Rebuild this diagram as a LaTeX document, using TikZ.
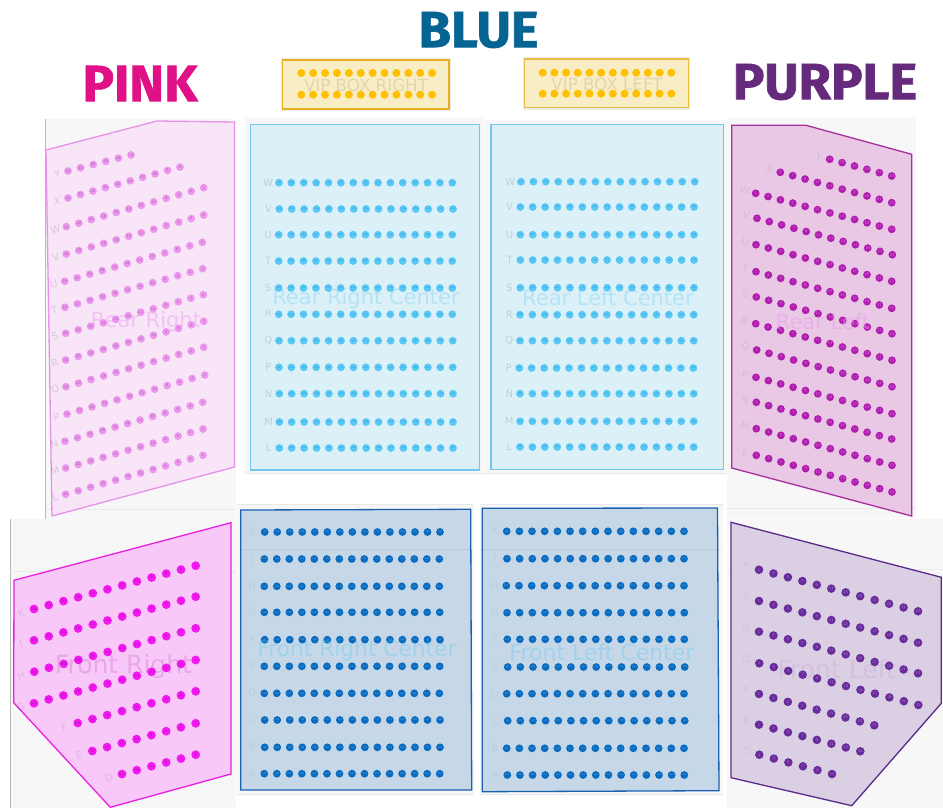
\documentclass[tikz,border=0pt]{standalone}
\usepackage{fontspec}
\setmainfont{DejaVu Sans}
\newfontfamily\titlefont[BoldFeatures={FakeBold=1.3,FakeStretch=1.03}]{Fira Sans}
\definecolor{TitlePink}{RGB}{224,17,134}
\definecolor{TitleBlue}{RGB}{6,100,146}
\definecolor{TitlePurple}{RGB}{102,42,124}
\definecolor{PanelGrey}{RGB}{247,247,247}
\definecolor{PanelLine}{RGB}{232,232,232}
\definecolor{RearRightFill}{RGB}{248,230,248}
\definecolor{RearRightLine}{RGB}{232,144,234}
\definecolor{RearRightSeat}{RGB}{236,150,238}
\definecolor{RearCenterFill}{RGB}{220,240,248}
\definecolor{RearCenterLine}{RGB}{112,200,236}
\definecolor{RearCenterSeat}{RGB}{90,200,245}
\definecolor{RearLeftFill}{RGB}{232,200,228}
\definecolor{RearLeftLine}{RGB}{168,47,160}
\definecolor{RearLeftSeat}{RGB}{176,30,176}
\definecolor{FrontRightFill}{RGB}{248,200,248}
\definecolor{FrontRightLine}{RGB}{232,32,224}
\definecolor{FrontRightSeat}{RGB}{242,24,240}
\definecolor{FrontCenterFill}{RGB}{198,216,232}
\definecolor{FrontCenterLine}{RGB}{26,96,176}
\definecolor{FrontCenterSeat}{RGB}{10,108,192}
\definecolor{FrontLeftFill}{RGB}{219,207,228}
\definecolor{FrontLeftLine}{RGB}{90,42,140}
\definecolor{FrontLeftSeat}{RGB}{106,44,156}
\definecolor{VipFill}{RGB}{248,237,197}
\definecolor{VipLine}{RGB}{232,176,32}
\definecolor{VipSeat}{RGB}{255,192,0}
\newcommand{\seatrow}[9]{%
    \foreach \i in {1,...,#7} {
        \pgfmathsetmacro\seatx{#3+(#5-#3)*(\i-1)/(#7-1)}
        \pgfmathsetmacro\seaty{#4+(#6-#4)*(\i-1)/(#7-1)}
        \pgfmathtruncatemacro\seatnum{#8+(\i-1)*#9}
        \node (#1-#2-\i) [seat] at (\seatx,\seaty) {\seatnum};
    }
    \node (#1-#2-label) [rowlabel] at (#1-#2-1) {#2};
}
\begin{document}
\begin{tikzpicture}[
            x=1pt, y=-1pt,
            outline/.style={line width=1.3pt},
            seatbase/.style={circle, inner sep=0pt, minimum size=7.8pt, font=\fontsize{3.6}{4}\selectfont},
            seatsmall/.style={seatbase, font=\fontsize{2.3}{3}\selectfont},
            rowbase/.style={inner sep=0pt, text=black, text opacity=0.13, font=\fontsize{10}{11}\selectfont},
            section/.style={inner sep=0pt, font=\fontsize{21}{24}\selectfont},
            bigsection/.style={inner sep=0pt, font=\fontsize{25}{28}\selectfont},
            vipname/.style={inner sep=0pt, font=\fontsize{16.7}{18}\selectfont, text=black!60!VipLine, text opacity=0.14},
            vipseat/.style={circle, inner sep=0pt, minimum size=8pt, fill=VipSeat},
            title/.style={inner sep=0pt, font=\titlefont\bfseries\fontsize{51}{54}\selectfont}
        ]
            \useasboundingbox (0,0) rectangle (943,808);
            \fill[white] (0,0) rectangle (943,808);

            % grey panels behind the sections
            \fill[PanelGrey] (45.7,119) rectangle (236,519);
            \fill[PanelGrey] (10.3,519) rectangle (236,808);
            \fill[PanelGrey] (245,118) rectangle (484,473);
            \fill[PanelGrey] (485,120) rectangle (727,473);
            \fill[PanelGrey] (727,118) rectangle (915.7,518);
            \fill[PanelGrey] (727,519) rectangle (943,808);
            \fill[PanelGrey] (236.7,504.3) rectangle (474,794);
            \fill[PanelGrey] (480,504) rectangle (722.7,794);
            \draw[black!28, thick] (45.7,119) -- (45.7,519);
            \draw[black!28, thick] (10.3,519) -- (10.3,808);
            \draw[PanelLine] (45.7,509.3) -- (236,509.3);
            \draw[PanelLine] (727,508) -- (915.7,508);
            \draw[PanelLine] (10.3,571.3) -- (236,571.3);
            \draw[PanelLine] (727,568.7) -- (943,568.7);
            \draw[PanelLine, thick] (245,473) -- (484,473);
            \draw[PanelLine, thick] (485,473) -- (727,473);
            \draw[PanelLine, thick] (236.7,504.3) -- (474,504.3);
            \draw[PanelLine, thick] (480,504) -- (722.7,504);
            \draw[PanelLine, thick] (236.7,794) -- (474,794);
            \draw[PanelLine, thick] (480,794) -- (722.7,794);

            % section outlines
            \draw[outline, RearRightLine, fill=RearRightFill] (46,150) -- (157,121) -- (234.5,122) -- (234.5,467) -- (52,516) -- cycle;
            \draw[outline, RearCenterLine, fill=RearCenterFill] (250.7,124.3) rectangle (479.8,470);
            \draw[outline, RearCenterLine, fill=RearCenterFill] (491,124.3) rectangle (723.5,469.5);
            \draw[outline, RearLeftLine, fill=RearLeftFill] (731.7,125.3) -- (806,125.3) -- (911.7,154.3) -- (911.7,516) -- (731.7,468) -- cycle;
            \draw[outline, FrontRightLine, fill=FrontRightFill] (14,580.3) -- (231,522.7) -- (231,774) -- (110.3,807.3) -- (13.7,702.7) -- cycle;
            \draw[outline, FrontCenterLine, fill=FrontCenterFill] (240.7,510) -- (470.7,509.3) -- (471.7,790) -- (240.7,790) -- cycle;
            \draw[outline, FrontCenterLine, fill=FrontCenterFill] (482.3,508.3) -- (717.5,508) -- (719,790.7) -- (482.3,791.7) -- cycle;
            \draw[outline, FrontLeftLine, fill=FrontLeftFill] (731,522.3) -- (941.3,577.3) -- (941.3,703.3) -- (851.7,805.7) -- (731,777.7) -- cycle;
            \draw[black!8, fill=black!8] (281,58.3) rectangle (450.3,110.3);
            \draw[black!8, fill=black!8] (522.7,57.3) rectangle (689.3,109.3);
            \draw[outline, VipLine, fill=VipFill] (282.7,60) rectangle (449,109);
            \draw[outline, VipLine!85!white, fill=VipFill] (524.3,59) rectangle (688.3,107.7);
            \draw[black, opacity=0.05] (236.7,549.3) -- (474,549.3);
            \draw[black, opacity=0.05] (480,548.7) -- (722.7,548.7);

            % rear right
            \begin{scope}[seat/.style={seatbase, fill=RearRightSeat, text=RearRightLine!70!black},
                          rowlabel/.style={rowbase, shift={(-10.7,3)}, rotate=15.8}]
                \foreach \row/\xa/\ya/\xb/\yb/\n in {Y/68/171/131/155/6, X/68/198/180/167/10, W/66.3/226.7/203.7/187.7/12,
                        V/66.3/254/203.7/215/12, U/64.7/281.3/202.3/242.3/12, T/65/307.3/202.7/268.7/12,
                        S/65.7/333.3/203.3/294.7/12, R/65.7/360/203.7/321.3/12, Q/66/386.7/203.7/347.3/12,
                        P/67/414/204.7/375/12, N/65/441.3/202.7/402.3/12, M/65.7/468/203/429/12, L/65.7/494.3/203/455.3/12}
                    \seatrow{rr}{\row}{\xa}{\ya}{\xb}{\yb}{\n}{24}{-2};
            \end{scope}

            % rear left
            \begin{scope}[seat/.style={seatbase, fill=RearLeftSeat, text=RearLeftSeat!60!white},
                          rowlabel/.style={rowbase, shift={(-11,-3)}, rotate=-15, text opacity=0.07}]
                \foreach \row/\xa/\ya/\xb/\yb/\n/\first in {Y/829.7/159.3/891.7/176/6/13, X/780.3/172.3/891.7/202.7/10/5, W/755.7/193.3/891.7/229.3/12/1,
                        V/757/218.3/892.3/254.7/12/1, U/756/244.7/891.7/281.3/12/1, T/756/271.7/891.7/308.3/12/1,
                        S/756.3/297/892/333.7/12/1, R/755.7/323.7/892/360.3/12/1, Q/756.7/350/892/386.7/12/1,
                        P/756/377.3/892/413.7/12/1, N/756.3/402.3/891.7/439/12/1, M/756.3/428.7/892/465.3/12/1, L/756.3/455.3/892/492/12/1}
                    \seatrow{rl}{\row}{\xa}{\ya}{\xb}{\yb}{\n}{\first}{2};
            \end{scope}

            % rear centers
            \begin{scope}[seat/.style={seatsmall, fill=RearCenterSeat, text=FrontCenterSeat!60!RearCenterSeat},
                          rowlabel/.style={rowbase, shift={(-10.7,0)}}]
                \foreach \row/\xa/\ya/\xb/\yb in {W/279/182.7/452.3/182.7, V/279.3/209/453/209, U/278.7/234.7/452.3/234.7,
                        T/278.7/261/452.3/261, S/278.7/288/452.3/288, R/278.7/314.3/452.3/314.3, Q/279/340.7/452.7/340.7,
                        P/279/367.3/452.7/367.3, N/279.3/393.7/453/393.7, M/279.3/422/453/422, L/279.3/448/453/448}
                    \seatrow{rrc}{\row}{\xa}{\ya}{\xb}{\yb}{15}{130}{-2};
                \foreach \row/\xa/\ya/\xb/\yb in {W/521/181.7/694.7/181.7, V/520.3/207/694/207, U/520.3/234.7/694/234.7,
                        T/520.3/260/694/260, S/520.3/287.7/694/287.7, R/520/314.7/693.7/314.7, Q/520/340.7/693.7/340.7,
                        P/519.3/368/693.3/368, N/520/393.7/693.7/393.7, M/520/421.3/693.7/421.3, L/520/447/693.7/447}
                    \seatrow{rlc}{\row}{\xa}{\ya}{\xb}{\yb}{15}{101}{2};
            \end{scope}

            % front centers
            \begin{scope}[seat/.style={seatsmall, fill=FrontCenterSeat, text=FrontCenterSeat!60!white},
                          rowlabel/.style={rowbase, shift={(-12,0)}, text opacity=0.05}]
                \foreach \row/\xa/\ya/\xb/\yb in {K/264.7/532/440/532, J/264.3/559/439.3/559, H/264.3/586.3/439.3/586.3,
                        G/264.3/612.3/439.7/612.3, F/264.7/639.7/440/639.7, E/264.3/666.3/439.7/666.3, D/264.3/693.3/439.3/693.3,
                        C/264.7/720/440/720, B/264.7/747.3/440/747.3, A/264.3/773.7/439.7/773.7}
                    \seatrow{frc}{\row}{\xa}{\ya}{\xb}{\yb}{15}{130}{-2};
                \foreach \row/\xa/\ya/\xb/\yb in {K/506.7/531.3/684/531.3, J/507/558.7/684/558.7, H/506.3/585.7/684/585.7,
                        G/507/612.7/684.3/612.7, F/507.3/639.3/684.3/639.3, E/507.7/667/684.7/667, D/506.7/693.7/684/693.7,
                        C/507.7/720.7/684.7/720.7, B/506.7/748.3/684/748.3, A/507.3/775/684.3/775}
                    \seatrow{flc}{\row}{\xa}{\ya}{\xb}{\yb}{15}{101}{2};
            \end{scope}

            % front right
            \begin{scope}[seat/.style={seatbase, minimum size=8.8pt, fill=FrontRightSeat, text=FrontRightLine!70!black},
                          rowlabel/.style={rowbase, shift={(-13,4)}, rotate=15, text opacity=0.09}]
                \foreach \row/\xa/\ya/\xb/\yb/\n/\first in {K/34/609/195.7/565.7/12/24, J/34/640.3/195.7/596.7/12/24, H/34.3/671.7/195.7/628.3/12/24,
                        G/34/703.3/195.7/660/12/24, F/77.7/723/195.7/691.3/9/18, E/92.3/751/195.7/723.3/8/16, D/122/774/195.7/754.7/6/12}
                    \seatrow{fr}{\row}{\xa}{\ya}{\xb}{\yb}{\n}{\first}{-2};
            \end{scope}

            % front left
            \begin{scope}[seat/.style={seatbase, minimum size=8.6pt, fill=FrontLeftSeat, text=FrontLeftSeat!60!white},
                          rowlabel/.style={rowbase, shift={(-13,-4)}, rotate=-15, text opacity=0.05}]
                \foreach \row/\xa/\ya/\xb/\yb/\n in {K/759/569.7/918/611.3/12, J/759/601/918/642.7/12, H/759/631.7/918/673.3/12,
                        G/759.3/663.3/918.3/705/12, F/759/694/874.3/725.3/9, E/759/724.7/860.3/751.3/8, D/759.3/754.7/832/774/6}
                    \seatrow{fl}{\row}{\xa}{\ya}{\xb}{\yb}{\n}{1}{2};
            \end{scope}

            % vip boxes
            \foreach \i in {1,...,12} {
                \pgfmathsetmacro\vipr{301.3+(\i-1)*11.89}
                \pgfmathsetmacro\vipl{542.7+(\i-1)*11.69}
                \node (viprt-\i) [vipseat] at (\vipr,73) {};
                \node (viprb-\i) [vipseat] at (\vipr,94.7) {};
                \node (viplt-\i) [vipseat] at (\vipl,72.7) {};
                \node (viplb-\i) [vipseat] at (\vipl,93.7) {};
            }

            % section names
            \node (rearright) [section, text=RearRightSeat, text opacity=0.45] at (146,322) {Rear Right};
            \node (rearrightcenter) [section, text=RearCenterSeat, text opacity=0.3] at (366,299) {Rear Right Center};
            \node (rearleftcenter) [section, text=RearCenterSeat, text opacity=0.3] at (608,298) {Rear Left Center};
            \node (rearleft) [section, text=RearRightSeat, text opacity=0.45] at (823,322) {Rear Left};
            \node (frontright) [bigsection, text=RearLeftSeat, text opacity=0.2] at (123.5,667) {Front Right};
            \node (frontrightcenter) [section, font=\fontsize{21.7}{24}\selectfont, text=RearCenterSeat, text opacity=0.35] at (357,651) {Front Right Center};
            \node (frontleftcenter) [section, font=\fontsize{22}{24}\selectfont, text=RearCenterSeat, text opacity=0.35] at (602,652) {Front Left Center};
            \node (frontleft) [bigsection, text=FrontLeftSeat, text opacity=0.08] at (836.7,669) {Front Left};
            \node (vipright) [vipname] at (366,85) {VIP BOX RIGHT};
            \node (vipleft) [vipname] at (607,84) {VIP BOX LEFT};

            % titles
            \node (bluetitle) [title, text=TitleBlue] at (478.5,30) {BLUE};
            \node (pinktitle) [title, text=TitlePink] at (140,83.5) {PINK};
            \node (purpletitle) [title, text=TitlePurple] at (825,82) {PURPLE};
        \end{tikzpicture}
\end{document}
